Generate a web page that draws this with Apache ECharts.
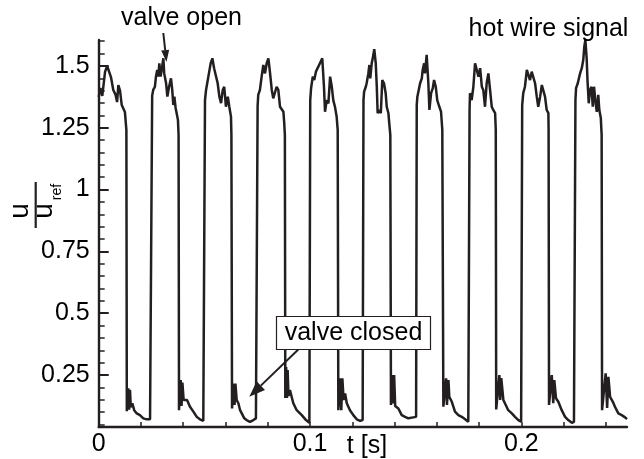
<!DOCTYPE html>
<html>
<head>
<meta charset="utf-8">
<script src="https://cdn.jsdelivr.net/npm/echarts@6/dist/echarts.min.js"></script>
<style>
  html, body { margin: 0; padding: 0; background: #ffffff; }
  #chart { width: 644px; height: 459px; }
</style>
</head>
<body>
<div id="chart"></div>
<script>
// Hot-wire velocity signal of a pulsed valve: time [s] and u/u_ref.
// One line per half cycle (open plateau, then closed phase).
const timeS = [
  0.0000,0.0008,0.0017,0.0030,0.0040,0.0049,0.0058,0.0069,0.0080,0.0087,0.0093,0.0101,0.0109,0.0116,0.0124,0.0131,
  0.0133,0.0140,0.0144,0.0148,0.0152,0.0159,0.0168,0.0180,0.0195,0.0211,0.0227,0.0243,0.0250,
  0.0253,0.0258,0.0266,0.0271,0.0277,0.0282,0.0287,0.0293,0.0298,0.0306,0.0310,0.0319,0.0325,0.0333,0.0342,0.0348,0.0353,0.0358,0.0364,0.0371,0.0375,0.0378,
  0.0380,0.0388,0.0392,0.0396,0.0402,0.0410,0.0418,0.0432,0.0448,0.0464,0.0479,0.0495,0.0500,
  0.0503,0.0508,0.0516,0.0522,0.0530,0.0538,0.0546,0.0554,0.0563,0.0571,0.0579,0.0587,0.0594,0.0602,0.0611,0.0618,0.0626,0.0628,
  0.0631,0.0638,0.0643,0.0647,0.0653,0.0661,0.0669,0.0677,0.0689,0.0700,0.0716,0.0732,0.0744,0.0747,
  0.0752,0.0755,0.0763,0.0771,0.0779,0.0787,0.0795,0.0803,0.0811,0.0819,0.0826,0.0834,0.0842,0.0850,0.0858,0.0866,0.0874,0.0878,0.0881,
  0.0883,0.0887,0.0891,0.0894,0.0898,0.0905,0.0921,0.0937,0.0961,0.0981,0.0997,0.1000,
  0.1001,0.1005,0.1013,0.1020,0.1028,0.1036,0.1047,0.1058,0.1066,0.1071,0.1079,0.1087,0.1095,0.1103,0.1110,0.1118,0.1126,0.1131,
  0.1134,0.1142,0.1148,0.1153,0.1159,0.1166,0.1174,0.1189,0.1205,0.1221,0.1237,0.1249,0.1252,
  0.1253,0.1256,0.1264,0.1268,0.1276,0.1281,0.1285,0.1292,0.1300,0.1304,0.1311,0.1316,0.1320,0.1328,0.1335,0.1342,0.1350,0.1358,0.1363,0.1371,0.1375,0.1380,
  0.1383,0.1390,0.1394,0.1398,0.1403,0.1410,0.1418,0.1434,0.1450,0.1465,0.1489,0.1502,0.1504,
  0.1505,0.1508,0.1516,0.1521,0.1529,0.1533,0.1540,0.1544,0.1552,0.1560,0.1565,0.1573,0.1581,0.1587,0.1595,0.1602,0.1612,0.1620,0.1626,
  0.1631,0.1644,0.1648,0.1655,0.1659,0.1671,0.1686,0.1702,0.1718,0.1734,0.1749,0.1753,
  0.1755,0.1757,0.1765,0.1773,0.1781,0.1789,0.1797,0.1805,0.1813,0.1820,0.1828,0.1836,0.1844,0.1852,0.1860,0.1867,0.1876,0.1879,
  0.1881,0.1896,0.1900,0.1905,0.1915,0.1923,0.1938,0.1955,0.1970,0.1986,0.1999,0.2002,
  0.2004,0.2009,0.2017,0.2026,0.2033,0.2041,0.2049,0.2057,0.2065,0.2073,0.2080,0.2089,0.2097,0.2104,0.2112,0.2120,0.2128,0.2129,
  0.2131,0.2144,0.2151,0.2156,0.2164,0.2175,0.2191,0.2207,0.2222,0.2239,0.2249,0.2253,
  0.2256,0.2259,0.2267,0.2278,0.2286,0.2293,0.2298,0.2303,0.2309,0.2313,0.2319,0.2325,0.2332,0.2338,0.2344,0.2350,0.2357,0.2364,0.2369,0.2376,0.2380,
  0.2382,0.2399,0.2406,0.2412,0.2420,0.2433,0.2443,0.2459,0.2475,0.2491,0.2500
];
const uOverUref = [
  1.375,1.411,1.379,1.476,1.500,1.496,1.455,1.403,1.383,1.354,1.423,1.399,1.342,1.334,1.314,1.241,
  0.104,0.197,0.110,0.190,0.120,0.136,0.108,0.095,0.088,0.075,0.071,0.071,0.072,
  1.380,1.403,1.416,1.457,1.484,1.457,1.511,1.457,1.484,1.531,1.470,1.430,1.376,1.416,1.450,1.403,1.342,1.376,1.330,1.322,1.282,1.221,
  0.108,0.230,0.125,0.220,0.149,0.157,0.149,0.122,0.102,0.081,0.071,0.065,0.066,
  1.362,1.403,1.411,1.472,1.511,1.531,1.491,1.484,1.430,1.376,1.350,1.403,1.416,1.335,1.376,1.335,1.295,1.221,
  0.115,0.216,0.129,0.216,0.149,0.136,0.108,0.095,0.075,0.068,0.061,0.068,0.075,0.075,
  1.338,1.383,1.403,1.457,1.504,1.470,1.511,1.531,1.470,1.403,1.369,1.362,1.416,1.403,1.335,1.342,1.315,1.269,1.221,
  0.157,0.283,0.157,0.270,0.166,0.189,0.136,0.108,0.088,0.068,0.057,0.058,
  1.362,1.410,1.457,1.443,1.477,1.484,1.511,1.531,1.416,1.315,1.362,1.349,1.457,1.416,1.362,1.335,1.295,1.241,
  0.108,0.237,0.108,0.237,0.149,0.176,0.136,0.108,0.088,0.071,0.065,0.068,0.068,
  1.362,1.396,1.416,1.430,1.470,1.504,1.450,1.511,1.545,1.568,1.511,1.416,1.309,1.322,1.309,1.443,1.430,1.390,1.335,1.309,1.268,1.221,
  0.129,0.250,0.135,0.250,0.125,0.122,0.115,0.088,0.081,0.075,0.079,0.081,0.081,
  1.342,1.376,1.383,1.430,1.450,1.484,1.511,1.470,1.545,1.430,1.322,1.390,1.410,1.443,1.416,1.362,1.335,1.315,1.241,
  0.122,0.237,0.129,0.230,0.162,0.142,0.102,0.088,0.081,0.071,0.061,0.062,
  1.322,1.390,1.362,1.416,1.511,1.484,1.457,1.491,1.416,1.403,1.335,1.430,1.470,1.403,1.335,1.322,1.309,1.241,
  0.111,0.250,0.149,0.238,0.149,0.142,0.108,0.095,0.081,0.068,0.061,0.062,
  1.342,1.390,1.416,1.484,1.491,1.443,1.477,1.470,1.430,1.376,1.335,1.376,1.423,1.416,1.376,1.322,1.309,1.241,
  0.129,0.250,0.136,0.230,0.156,0.142,0.108,0.081,0.068,0.057,0.061,0.062,
  1.362,1.410,1.430,1.470,1.491,1.524,1.578,1.605,1.532,1.443,1.349,1.403,1.416,1.335,1.416,1.362,1.314,1.383,1.322,1.290,1.221,
  0.108,0.257,0.117,0.243,0.162,0.142,0.122,0.095,0.088,0.079,0.072
];

// Axis ticks and labels
const xLabelValues = [0, 0.1, 0.2];
const xTickValues = [0, 0.02, 0.04, 0.06, 0.08, 0.1, 0.12, 0.14, 0.16, 0.18, 0.2, 0.22, 0.24];
const yLabelValues = [0.25, 0.5, 0.75, 1, 1.25, 1.5];
const yMinorValues = [0.05, 0.1, 0.15, 0.2, 0.25, 0.3, 0.35, 0.4, 0.45, 0.5, 0.55, 0.6, 0.65, 0.7, 0.75, 0.8,
  0.85, 0.9, 0.95, 1, 1.05, 1.1, 1.15, 1.2, 1.25, 1.3, 1.35, 1.4, 1.45, 1.5, 1.55, 1.6];

const INK = '#231f20';
const FONT = '"Liberation Sans", Arial, sans-serif';
const TEXT_SIZE = 25;

const points = timeS.map((t, i) => [t, uOverUref[i]]);

// Straight arrow with a filled triangular head, in pixel space
function arrow(x1, y1, x2, y2, headLen, headWidth) {
  const dx = x2 - x1, dy = y2 - y1;
  const len = Math.sqrt(dx * dx + dy * dy);
  const ux = dx / len, uy = dy / len;
  const bx = x2 - ux * headLen, by = y2 - uy * headLen;
  const px = -uy * headWidth / 2, py = ux * headWidth / 2;
  return [
    { type: 'line', shape: { x1: x1, y1: y1, x2: bx, y2: by }, style: { stroke: INK, lineWidth: 2 }, z: 100 },
    { type: 'polygon', shape: { points: [[x2, y2], [bx + px, by + py], [bx - px, by - py]] }, style: { fill: INK }, z: 100 }
  ];
}

function label(text, x, y, size) {
  return { type: 'text', x: x, y: y, z: 100,
    style: { text: text, fill: '#000', font: (size || TEXT_SIZE) + 'px ' + FONT, align: 'center', verticalAlign: 'middle' } };
}

const chart = echarts.init(document.getElementById('chart'), null, { renderer: 'canvas' });

const yBase = {
  type: 'value', min: 0.04, max: 1.605, position: 'left',
  splitLine: { show: false }
};

chart.setOption({
  animation: false,
  backgroundColor: '#ffffff',
  grid: { left: 98.7, right: 17, top: 40, bottom: 32, containLabel: false },
  xAxis: {
    type: 'value', min: 0, max: 0.25,
    splitLine: { show: false },
    axisLine: { show: true, onZero: false, lineStyle: { color: INK, width: 2.4 } },
    axisTick: { show: true, inside: true, length: 5, customValues: xTickValues, lineStyle: { color: INK, width: 1.5 } },
    axisLabel: { show: true, customValues: xLabelValues, margin: 5, color: '#000', fontSize: TEXT_SIZE, fontFamily: FONT }
  },
  yAxis: [
    Object.assign({}, yBase, {
      axisLine: { show: true, onZero: false, lineStyle: { color: INK, width: 2.4 } },
      axisTick: { show: true, inside: true, length: 10, customValues: yLabelValues, lineStyle: { color: INK, width: 2 } },
      axisLabel: { show: true, customValues: yLabelValues, margin: 9, color: '#000', fontSize: TEXT_SIZE, fontFamily: FONT }
    }),
    Object.assign({}, yBase, {
      axisLine: { show: false },
      axisTick: { show: true, inside: true, length: 6, customValues: yMinorValues, lineStyle: { color: INK, width: 1.5 } },
      axisLabel: { show: false }
    })
  ],
  series: [{
    type: 'line',
    data: points,
    xAxisIndex: 0,
    yAxisIndex: 0,
    showSymbol: false,
    clip: false,
    lineStyle: { color: INK, width: 2.5 },
    z: 5
  }],
  graphic: [
    // y axis title: u / u_ref, turned to read upward
    {
      type: 'group', x: 35.7, y: 205, rotation: Math.PI / 2,
      children: [
        { type: 'text', x: -6, y: -15, style: { text: 'u', fill: '#000', font: '28px ' + FONT, align: 'center', verticalAlign: 'middle' } },
        { type: 'line', shape: { x1: -23, y1: 0, x2: 23, y2: 0 }, style: { stroke: INK, lineWidth: 2.2 } },
        { type: 'text', x: -6, y: 9, style: { text: 'u', fill: '#000', font: '28px ' + FONT, align: 'center', verticalAlign: 'middle' } },
        { type: 'text', x: 13, y: 21, style: { text: 'ref', fill: '#000', font: '14px ' + FONT, align: 'center', verticalAlign: 'middle' } }
      ]
    },
    label('t [s]', 367, 446),
    label('valve open', 181.5, 18),
    label('hot wire signal', 548.5, 29),
    { type: 'rect', shape: { x: 276.5, y: 316.5, width: 154, height: 33 }, style: { fill: '#ffffff', stroke: INK, lineWidth: 1.2 }, z: 99 },
    label('valve closed', 353.5, 333)
  ].concat(arrow(163.3, 33, 166.5, 62, 12, 8))
   .concat(arrow(298.3, 349.5, 249.3, 396.7, 16, 12))
});
</script>
</body>
</html>
